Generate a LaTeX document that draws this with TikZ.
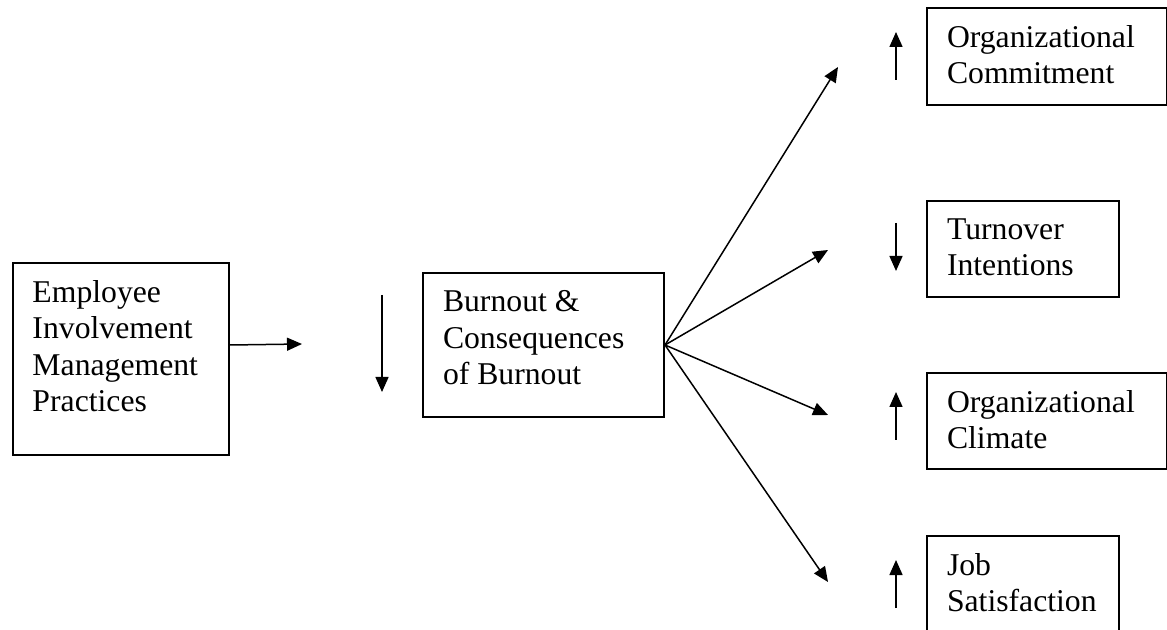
\documentclass[tikz,border=0pt]{standalone}
\usepackage{fontspec}
\setmainfont{Liberation Serif}
\usetikzlibrary{arrows.meta,calc}
\tikzset{
  box/.style={draw=black, line width=1pt, rectangle, inner sep=0pt, anchor=north west},
  txt/.style={inner sep=0pt, outer sep=0pt, align=left, anchor=north west,
    font=\fontsize{15.85pt}{18.25pt}\selectfont},
  arr/.style={draw=black, line width=0.75pt, -{Triangle[length=7.5pt,width=6.5pt]}}
}
\begin{document}
\begin{tikzpicture}[x=0.5pt,y=-0.5pt]
\useasboundingbox (0,0) rectangle (1167,630);
\clip (0,0) rectangle (1167,630);
% boxes
\node[box, minimum width=108pt, minimum height=96pt] (b1) at (12,262) {};
\node[box, minimum width=120.5pt, minimum height=72pt] (b2) at (422,272) {};
\node[box, minimum width=120pt, minimum height=48.5pt] (b3) at (926,7) {};
\node[box, minimum width=96pt, minimum height=48pt] (b4) at (926,200) {};
\node[box, minimum width=120pt, minimum height=48pt] (b5) at (926,372) {};
\node[box, minimum width=96pt, minimum height=48.5pt] (b6) at (926,535) {};
% texts
\node[txt] (t1) at ($(b1.north west)+(20.5,18.5)$) {Employee\\Involvement\\Management\\Practices};
\node[txt] (t2) at ($(b2.north west)+(21,18.5)$) {Burnout \&\\Consequences\\of Burnout};
\node[txt] (t3) at ($(b3.north west)+(21,18.5)$) {Organizational\\Commitment};
\node[txt] (t4) at ($(b4.north west)+(21,18.5)$) {Turnover\\Intentions};
\node[txt] (t5) at ($(b5.north west)+(21,18.5)$) {Organizational\\Climate};
\node[txt] (t6) at ($(b6.north west)+(21,18.5)$) {Job\\Satisfaction};
% free ends
\coordinate (e1) at (302,344);
\coordinate (d1s) at (382,295);
\coordinate (d1e) at (382,392);
\coordinate (f1) at (838,67);
\coordinate (f2) at (828,250);
\coordinate (f3) at (828,415);
\coordinate (f4) at (828,582);
\coordinate (u1s) at (896,80);
\coordinate (u1e) at (896,32);
\coordinate (u2s) at (896,223);
\coordinate (u2e) at (896,271);
\coordinate (u3s) at (896,440);
\coordinate (u3e) at (896,392);
\coordinate (u4s) at (896,608);
\coordinate (u4e) at (896,560);
% connectors
\draw[arr] (b1.east |- b2.east) -- (e1);
\draw[arr] (d1s) -- (d1e);
\draw[arr] (b2.east) -- (f1);
\draw[arr] (b2.east) -- (f2);
\draw[arr] (b2.east) -- (f3);
\draw[arr] (b2.east) -- (f4);
\draw[arr] (u1s) -- (u1e);
\draw[arr] (u2s) -- (u2e);
\draw[arr] (u3s) -- (u3e);
\draw[arr] (u4s) -- (u4e);
\end{tikzpicture}
\end{document}
